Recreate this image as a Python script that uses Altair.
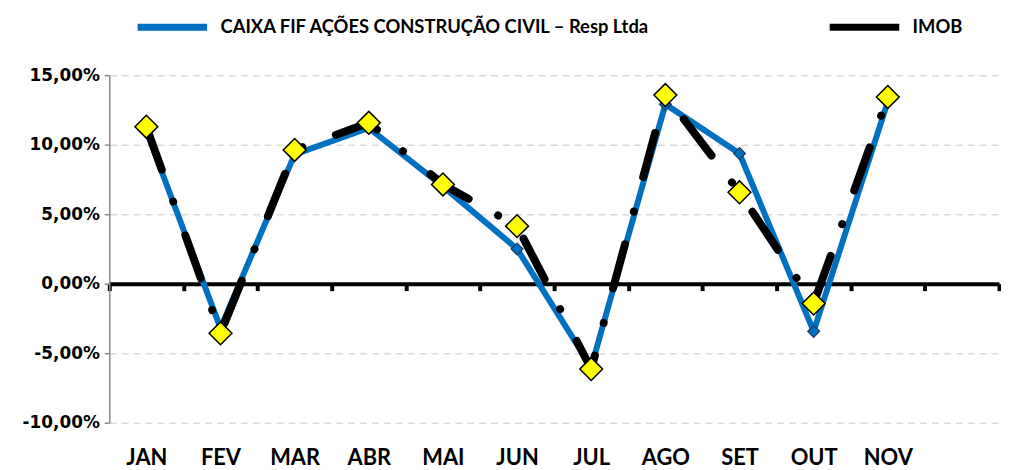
import altair as alt
import pandas as pd

MONTHS = ["JAN", "FEV", "MAR", "ABR", "MAI", "JUN", "JUL", "AGO", "SET", "OUT", "NOV"]
AXIS_SLOTS = MONTHS + ["DEZ"]
SERIES = ["CAIXA FIF AÇÕES CONSTRUÇÃO CIVIL – Resp Ltda", "IMOB"]
CAIXA = [11.0, -3.2, 9.3, 11.2, 7.0, 2.5, -6.0, 12.9, 9.36, -3.43, 13.1]
IMOB = [11.29, -3.57, 9.62, 11.57, 7.14, 4.14, -6.14, 13.57, 6.57, -1.43, 13.43]
Y_TICKS = [-10, -5, 0, 5, 10, 15]

rows = []
for s, vals in zip(SERIES, [CAIXA, IMOB]):
    for i, (m, v) in enumerate(zip(MONTHS, vals)):
        rows.append({"mes": m, "serie": s, "valor": v, "ordem": i})
df = pd.DataFrame(rows)

FONT = "Lato"
YFONT = "DejaVu Sans"

x_enc = alt.X(
    "mes:N",
    sort=AXIS_SLOTS,
    scale=alt.Scale(domain=AXIS_SLOTS, paddingInner=0, paddingOuter=0),
    axis=alt.Axis(
        title=None, orient="bottom", offset=-140, labelAngle=0,
        domainColor="black", domainWidth=4, tickColor="black", tickWidth=4,
        tickSize=7, tickBand="extent", labelPadding=158, grid=False,
        labelFont=FONT, labelFontSize=22, labelFontWeight="bold", labelColor="black",
        labelExpr="datum.value == 'DEZ' ? '' : datum.value",
    ),
)
y_enc = alt.Y(
    "valor:Q",
    scale=alt.Scale(domain=[-10, 15], nice=False, zero=False),
    axis=alt.Axis(
        title=None, values=Y_TICKS,
        labelExpr="replace(replace(format(datum.value, '.2f'), '.', ','), '\u2212', '-') + '%'",
        domainColor="#888888", domainWidth=1.5, tickColor="#888888", tickSize=5,
        tickWidth=1.5, grid=True, gridColor="#D9D9D9", gridDash=[7, 5], gridWidth=1.5,
        labelFont=YFONT, labelFontSize=17, labelFontWeight="bold", labelColor="black",
        labelPadding=5,
    ),
)
color_enc = alt.Color(
    "serie:N",
    scale=alt.Scale(domain=SERIES, range=["#0070C0", "#000000"]),
    legend=alt.Legend(
        orient="none", legendX=25, legendY=-87, direction="horizontal", columns=2,
        title=None, symbolType="stroke", symbolSize=4900, symbolStrokeWidth=7,
        labelFont=FONT, labelFontSize=18.5, labelFontWeight="bold", labelColor="black",
        labelOffset=10, columnPadding=165, labelLimit=700,
    ),
)

base = alt.Chart(df)
blue_line = base.transform_filter(alt.datum.serie == SERIES[0]).mark_line(
    strokeWidth=6, strokeCap="round", strokeJoin="round"
).encode(x=x_enc, y=y_enc, color=color_enc, order="ordem:Q")
black_line = base.transform_filter(alt.datum.serie == SERIES[1]).mark_line(
    strokeWidth=8, strokeCap="round", strokeJoin="round", strokeDash=[46, 34, 0.1, 36]
).encode(x=x_enc, y=y_enc, color=color_enc, order="ordem:Q")
blue_pts = base.transform_filter(alt.datum.serie == SERIES[0]).mark_point(
    shape="diamond", filled=True, size=144, fill="#0070C0", stroke="#1F3864",
    strokeWidth=1.2, opacity=1
).encode(x=x_enc, y=y_enc)
yellow_pts = base.transform_filter(alt.datum.serie == SERIES[1]).mark_point(
    shape="diamond", filled=True, size=529, fill="#FFFF00", stroke="black",
    strokeWidth=1.5, opacity=1
).encode(x=x_enc, y=y_enc)

chart = alt.layer(blue_line, black_line, blue_pts, yellow_pts).properties(
    width=896, height=350,
    autosize=alt.AutoSizeParams(type="none"),
    padding={"left": 102, "top": 66, "right": 2, "bottom": 45},
).configure_view(stroke=None)

chart.save("out.html", embed_options={"renderer": "svg", "actions": False})
